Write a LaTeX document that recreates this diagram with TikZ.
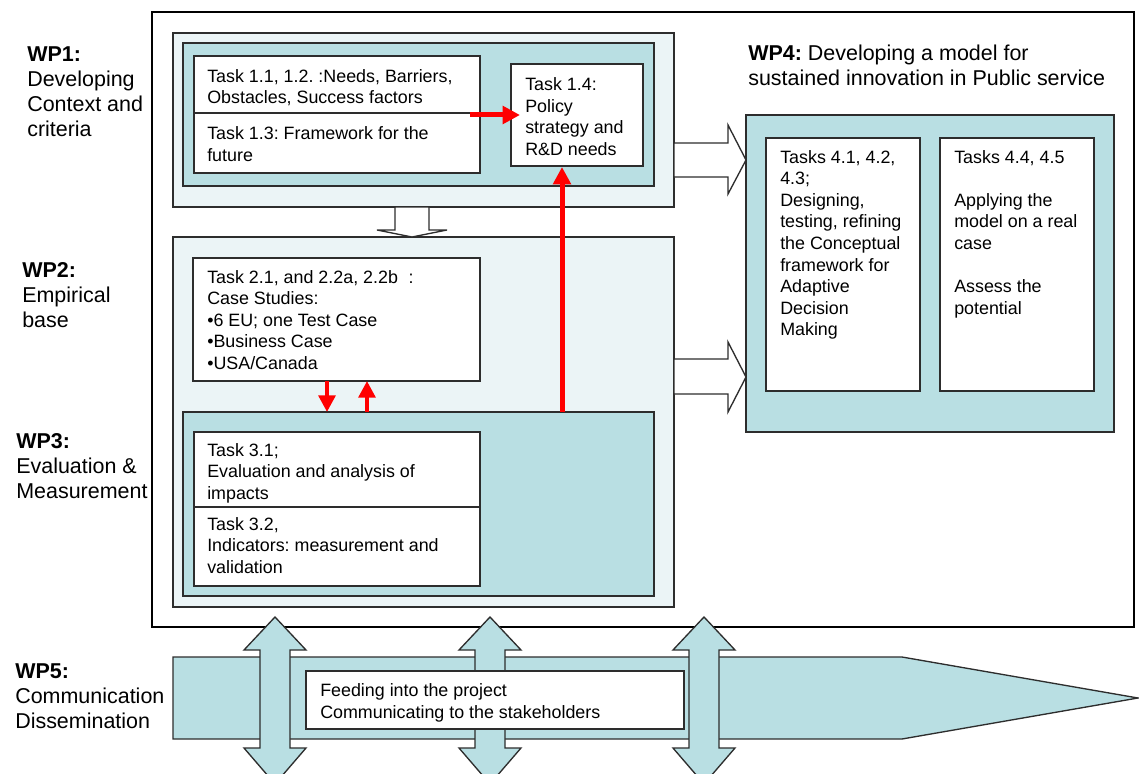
\documentclass[tikz,border=0pt]{standalone}
\usepackage{fontspec}
\setmainfont{Liberation Sans}
\usetikzlibrary{arrows.meta}
\definecolor{tealfill}{RGB}{185,223,227}
\definecolor{lightfill}{RGB}{235,244,246}
\definecolor{edgecol}{RGB}{45,45,45}
\newcommand\mybox[6]{\node[#6, anchor=north west, minimum width={(#4-#2)*0.75pt}, minimum height={(#5-#3)*0.75pt}] (#1) at (#2,#3) {};}
\frenchspacing
\begin{document}
\frenchspacing
\begin{tikzpicture}[x=0.75pt,y=-0.75pt,
  boxbase/.style={draw=edgecol, line width=1pt, inner sep=0pt, outer sep=0pt},
  whitebox/.style={boxbase, fill=white},
  tealbox/.style={boxbase, fill=tealfill},
  lightbox/.style={boxbase, fill=lightfill},
  outerbox/.style={draw=black, line width=1.5pt, fill=white, inner sep=0pt, outer sep=0pt},
  txt/.style={anchor=base west, inner sep=0pt, align=left, font=\fontsize{13.4}{16.2}\selectfont},
  lbl/.style={anchor=base west, inner sep=0pt, align=left, font=\fontsize{16.1}{18.75}\selectfont},
  hollow/.style={draw=edgecol, line width=1pt, fill=white, line join=miter},
  dblarrow/.style={draw=edgecol, line width=1pt, fill=tealfill, line join=miter},
  redarrow/.style={draw=red, line width=3.75pt, -{Triangle[length=13pt, width=13pt]}},
  smallred/.style={draw=red, line width=3pt, -{Triangle[length=12.5pt, width=12.5pt]}}
]
\useasboundingbox (0,0) rectangle (1139,774);
\clip (0,0) rectangle (1139,774);

% outer frame
\mybox{outer}{152}{12}{1134}{627}{outerbox}

% WP1
\mybox{wp1l}{173}{33}{674}{207}{lightbox}
\mybox{wp1t}{183}{43}{654}{186}{tealbox}
\mybox{t11}{194}{56}{480}{113}{whitebox}
\mybox{t13}{194}{113}{480}{173}{whitebox}
\mybox{t14}{511}{64}{643}{166}{whitebox}
% (node base = baseline of the last line)
\node[txt] (t11txt) at (207,103.6) {Task 1.1, 1.2. :Needs, Barriers,\\Obstacles, Success factors};
\node[txt] (t13txt) at (207,161.1) {Task 1.3: Framework for the\\future};
\node[txt] (t14txt) at (525,155.3) {Task 1.4:\\Policy\\strategy and\\R\&D needs};

% WP2 / WP3
\mybox{wp2l}{173}{237}{674}{607}{lightbox}
\mybox{t21}{193}{258}{480}{381}{whitebox}
\node[txt] (t21txt) at (207,369.4) {Task 2.1, and 2.2a, 2.2b\hspace{8pt}:\\Case Studies:\\•6 EU; one Test Case\\•Business Case\\•USA/Canada};
\mybox{wp3t}{183}{412}{654}{596}{tealbox}
\mybox{t31}{194}{432}{480}{507}{whitebox}
\mybox{t32}{194}{507}{480}{586}{whitebox}
\node[txt] (t31txt) at (207,499.2) {Task 3.1;\\Evaluation and analysis of\\impacts};
\node[txt] (t32txt) at (207,573.2) {Task 3.2,\\Indicators: measurement and\\validation};

% hollow arrows
\draw[hollow] (395,207) -- (395,230) -- (377,230) -- (412,237) -- (447,230) -- (429,230) -- (429,207) -- cycle;
\draw[hollow] (674,143) -- (728,143) -- (728,125) -- (746,160) -- (728,194) -- (728,177) -- (674,177) -- cycle;
\draw[hollow] (674,359) -- (728,359) -- (728,342) -- (746,377) -- (728,412) -- (728,394) -- (674,394) -- cycle;

% WP4
\mybox{wp4t}{746}{115}{1114}{432}{tealbox}
\mybox{t41}{766}{138}{920}{391}{whitebox}
\mybox{t44}{940}{138}{1094}{391}{whitebox}
\node[txt] (t41txt) at (780,335.8) {Tasks 4.1, 4.2,\\4.3;\\Designing,\\testing, refining\\the Conceptual\\framework for\\Adaptive\\Decision\\Making};
\node[txt] (t44txt) at (954,314.2) {Tasks 4.4, 4.5\\[16.2pt]Applying the\\model on a real\\case\\[16.2pt]Assess the\\potential};
\node[lbl] (wp4title) at (748,85) {\textbf{WP4:} Developing a model for\\sustained innovation in Public service};

% red arrows
\coordinate (r1s) at (470,115);
\coordinate (r1e) at (520,115);
\draw[redarrow] (r1s) -- (r1e);
\coordinate (r2x) at (562,0);
\draw[redarrow] (wp3t.north -| r2x) -- ([yshift=-0.75pt]t14.south -| r2x);
\coordinate (r3x) at (327,0);
\coordinate (r4x) at (367,0);
\draw[smallred] (t21.south -| r3x) -- (wp3t.north -| r3x);
\draw[smallred] (wp3t.north -| r4x) -- (t21.south -| r4x);

% WP5 band
\draw[dblarrow] (173,657) -- (902,657) -- (1138,698) -- (902,739) -- (173,739) -- cycle;
\foreach \cx in {275,490,704}{
  \draw[dblarrow] (\cx,617) -- (\cx+31,650) -- (\cx+15,650) -- (\cx+15,748) -- (\cx+31,748) -- (\cx,784)
     -- (\cx-31,748) -- (\cx-15,748) -- (\cx-15,650) -- (\cx-31,650) -- cycle;
}
\mybox{wp5box}{306}{671}{684}{729}{whitebox}
\node[txt, font=\fontsize{13.4}{16.5}\selectfont] (wp5txt) at (320,718) {Feeding into the project\\Communicating to the stakeholders};

% left labels
\node[lbl] (lab1) at (27,137) {\textbf{WP1:}\\Developing\\Context and\\criteria};
\node[lbl] (lab2) at (22,327) {\textbf{WP2:}\\Empirical\\base};
\node[lbl] (lab3) at (16,498) {\textbf{WP3:}\\Evaluation \&\\Measurement};
\node[lbl] (lab5) at (15,728) {\textbf{WP5:}\\Communication\\Dissemination};
\end{tikzpicture}
\end{document}
